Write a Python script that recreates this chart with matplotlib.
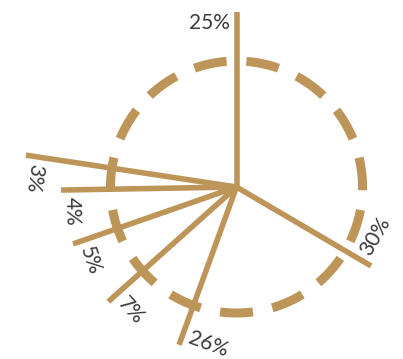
import matplotlib.pyplot as plt
import numpy as np

# shares shown at the end of each spoke, clockwise from the top
shares = [25, 30, 26, 7, 5, 4, 3]
spoke_angles = [0, 120.4, 200, 228.2, 250.8, 269, 278.6]   # degrees, clockwise from north
spoke_lengths = [175, 156, 168, 172, 173, 175.5, 213]
ring_radius = 126
ring_dashes = 15

gold = '#bd9559'
text_color = '#3a3a3a'

W, H, DPI = 403, 359, 100
fig = plt.figure(figsize=(W / DPI, H / DPI), dpi=DPI)

# polar axes centred on the hub, one data unit = one pixel
cx, cy, R = 236.5, H - 187, 220
ax = fig.add_axes([(cx - R) / W, (cy - R) / H, 2 * R / W, 2 * R / H], projection='polar')
ax.set_theta_zero_location('N')
ax.set_theta_direction(-1)
ax.set_ylim(0, R)
ax.set_axis_off()

# dashed ring
step = 360 / ring_dashes
for k in range(ring_dashes):
    mid = step / 2 + k * step
    t = np.radians(np.linspace(mid - 7.5, mid + 7.5, 30))
    ax.plot(t, np.full_like(t, ring_radius), color=gold, lw=6.5, solid_capstyle='butt')

# spokes and labels
for v, a, L in zip(shares, spoke_angles, spoke_lengths):
    th = np.radians(a)
    ax.plot([th, th], [0, L], color=gold, lw=4, solid_capstyle='butt')

    rot = -a if a < 90 else 180 - a
    ccw = np.array([-np.cos(th), np.sin(th)])
    out = np.array([np.sin(th), np.cos(th)])
    read = np.array([np.cos(np.radians(rot)), np.sin(np.radians(rot))])
    ha = 'left' if ccw @ read > 0 else 'right'
    off = 7 * ccw - 11 * out
    ax.annotate(f'{v}%', xy=(th, L), xytext=(off[0], off[1]), textcoords='offset pixels',
                rotation=rot, rotation_mode='anchor', ha=ha, va='center',
                fontsize=15, color=text_color, family='Lato', annotation_clip=False)

plt.savefig('out.png', dpi=DPI)
